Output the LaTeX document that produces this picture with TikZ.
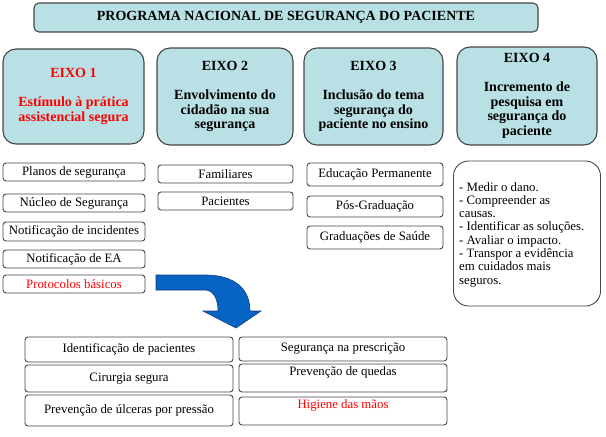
\documentclass[tikz,border=0pt]{standalone}
\usepackage{fontspec}
\setmainfont{Liberation Serif}
\definecolor{teal1}{RGB}{185,224,228}
\definecolor{edge}{RGB}{70,70,70}
\definecolor{arrowblue}{RGB}{6,100,196}
\definecolor{arrowedge}{RGB}{20,60,130}
\definecolor{redtxt}{RGB}{255,0,0}
\begin{document}
\begin{tikzpicture}[x=1pt,y=-1pt,
  tealbox/.style={draw=edge, line width=1.1pt, fill=teal1, rounded corners=13pt, inner sep=0pt, align=center,
    font=\fontsize{14}{14.5}\selectfont\bfseries},
  smallbox/.style={draw=edge, line width=0.9pt, fill=white, rounded corners=3pt, inner sep=0pt, align=center,
    font=\fontsize{12.8}{15}\selectfont},
  listbox/.style={draw=edge, line width=0.9pt, fill=white, rounded corners=15pt, inner sep=0pt}
]
\useasboundingbox (0,0) rectangle (606,437);

% title
\node[tealbox, rounded corners=5pt, minimum width=504pt, minimum height=29pt] (title) at (286,17.5) {PROGRAMA NACIONAL DE SEGURANÇA DO PACIENTE};

% axes
\node[tealbox, minimum width=141pt, minimum height=95pt] (e1) at (73.5,96.5)
  {\textcolor{redtxt}{EIXO 1}\\[14.5pt]\textcolor{redtxt}{Estímulo à prática}\\\textcolor{redtxt}{assistencial segura}};
\node[tealbox, minimum width=136pt, minimum height=97pt] (e2) at (225,96.5)
  {EIXO 2\\[14.5pt]Envolvimento do\\cidadão na sua\\segurança};
\node[tealbox, minimum width=139pt, minimum height=97pt] (e3) at (373.5,96.5)
  {EIXO 3\\[14.5pt]Inclusão do tema\\segurança do\\paciente no ensino};
\node[tealbox, minimum width=140pt, minimum height=98pt] (e4) at (527,96)
  {EIXO 4\\[14.5pt]Incremento de\\pesquisa em\\segurança do\\paciente};

% column 1
\node[smallbox, minimum width=142pt, minimum height=18pt] (c1a) at (74,172) {Planos de segurança};
\node[smallbox, minimum width=142pt, minimum height=18pt] (c1b) at (74,203) {Núcleo de Segurança};
\node[smallbox, minimum width=142pt, minimum height=19pt] (c1c) at (74,231.5) {Notificação de incidentes};
\node[smallbox, minimum width=142pt, minimum height=18pt] (c1d) at (74,259) {Notificação de EA};
\node[smallbox, minimum width=142pt, minimum height=18pt, text=redtxt] (c1e) at (74,284) {Protocolos básicos};

% column 2
\node[smallbox, minimum width=135pt, minimum height=18pt] (c2a) at (225.5,174) {Familiares};
\node[smallbox, minimum width=135pt, minimum height=18pt] (c2b) at (225.5,201) {Pacientes};

% column 3
\node[smallbox, minimum width=136pt, minimum height=23pt] (c3a) at (375,174.5) {Educação Permanente};
\node[smallbox, minimum width=136pt, minimum height=21pt] (c3b) at (375,206.5) {Pós-Graduação};
\node[smallbox, minimum width=136pt, minimum height=23pt] (c3c) at (375,237.5) {Graduações de Saúde};

% column 4 list
\node[listbox, minimum width=147pt, minimum height=145pt] (c4) at (527,233.5) {};
\node[anchor=north west, inner sep=0pt, align=left, font=\fontsize{12.8}{13.3}\selectfont] (c4t) at (459,182)
  {- Medir o dano.\\- Compreender as\\causas.\\- Identificar as soluções.\\- Avaliar o impacto.\\- Transpor a evidência\\em cuidados mais\\seguros.};

% bent arrow
\path[fill=arrowblue, draw=arrowedge, line width=0.6pt]
  (156,275) -- (205,275) .. controls (236,275) and (250,290) .. (250,311)
  -- (261,311) -- (236,328) -- (203,311) -- (218,311)
  .. controls (218,298) and (213,290) .. (205,290) -- (156,290) -- cycle;
\coordinate (arrowtip) at (236,328);

% bottom boxes
\node[smallbox, minimum width=208pt, minimum height=25pt] (b1) at (129,349.5) {Identificação de pacientes};
\node[smallbox, minimum width=208pt, minimum height=27pt] (b2) at (129,378.5) {Cirurgia segura};
\node[smallbox, minimum width=208pt, minimum height=31pt] (b3) at (129,410.5) {Prevenção de úlceras por pressão};
\node[smallbox, minimum width=208pt, minimum height=24pt] (b4) at (343,349) {Segurança na prescrição};
\node[smallbox, minimum width=208pt, minimum height=28pt, text height=9pt, text depth=14pt] (b5) at (343,378) {Prevenção de quedas};
\node[smallbox, minimum width=208pt, minimum height=28pt, text height=9pt, text depth=14pt, text=redtxt] (b6) at (343,411) {Higiene das mãos};
\end{tikzpicture}
\end{document}
